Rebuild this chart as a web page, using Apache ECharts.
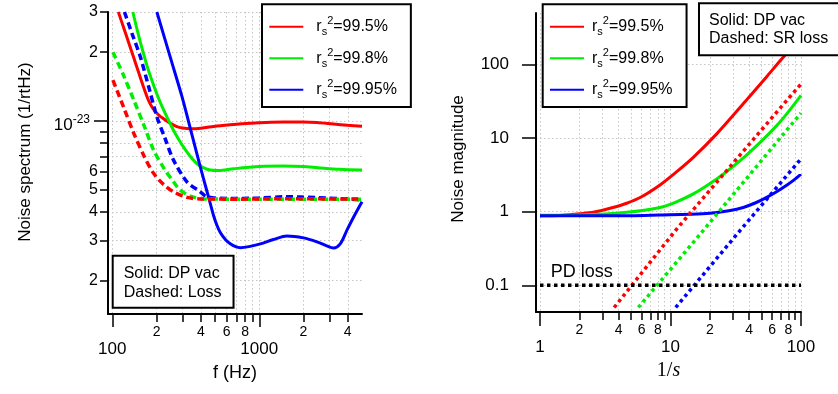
<!DOCTYPE html>
<html><head><meta charset="utf-8">
<script src="https://cdn.jsdelivr.net/npm/echarts@6/dist/echarts.min.js"></script>
<style>html,body{margin:0;padding:0;background:#fff}#c{width:838px;height:394px}</style>
</head><body><div id="c"></div>
<script>
// ---------- Left panel: noise spectrum (units of 1e-23 /rtHz) vs f (Hz) ----------
const leftSolid995 = [[110,3.0],[120,2.54],[130,2.18],[140,1.89],[150,1.654],[163,1.41],[172,1.28],[180,1.198],[190,1.129],[198,1.093],[210,1.054],[220,1.03],[236,0.998],[250,0.975],[275,0.945],[300,0.932],[340,0.925],[400,0.93],[515,0.951],[700,0.968],[869,0.977],[1100,0.985],[1455,0.99],[2000,0.99],[2470,0.985],[3200,0.97],[4000,0.958],[5000,0.948]];
const leftSolid998 = [[138,3.0],[146,2.58],[155,2.22],[163,1.976],[172,1.75],[185,1.518],[201,1.313],[218,1.158],[236,1.038],[252,0.951],[270,0.876],[288,0.816],[305,0.77],[340,0.699],[377,0.65],[420,0.623],[464,0.61],[530,0.607],[668,0.618],[1000,0.632],[1455,0.635],[2000,0.632],[2500,0.625],[3500,0.615],[5000,0.61]];
const leftSolid9995 = [[201,3.0],[250,1.87],[298,1.278],[350,0.861],[397,0.63],[440,0.494],[464,0.436],[489,0.385],[515,0.35],[543,0.325],[590,0.302],[635,0.29],[690,0.282],[743,0.279],[850,0.282],[1017,0.29],[1250,0.303],[1541,0.314],[2000,0.308],[2470,0.296],[2850,0.285],[3198,0.278],[3556,0.29],[3950,0.333],[4387,0.38],[5000,0.443]];
const leftDash995 = [[101,1.51],[119,1.155],[140,0.884],[165,0.70],[191,0.59],[225,0.525],[261,0.49],[322,0.463],[400,0.456],[700,0.455],[1500,0.457],[5000,0.455]];
const leftDash998 = [[101,2.0],[119,1.59],[140,1.236],[165,0.95],[191,0.746],[225,0.62],[261,0.542],[290,0.498],[339,0.469],[420,0.456],[800,0.455],[5000,0.455]];
const leftDash9995 = [[121,3.0],[137,2.39],[155,1.914],[178,1.39],[201,1.044],[230,0.83],[261,0.674],[322,0.542],[397,0.49],[440,0.466],[600,0.458],[1000,0.46],[1500,0.466],[2500,0.462],[5000,0.452]];

// ---------- Right panel: noise magnitude vs 1/s ----------
const rightSolid995 = [[1,0.88],[1.42,0.885],[2,0.935],[2.56,0.98],[3.5,1.12],[4.62,1.3],[6,1.59],[8.31,2.3],[11,3.41],[14.96,5.46],[22.6,11.36],[38.4,33],[55,69],[71.1,118],[100,230]];
const rightSolid998 = [[1,0.89],[2,0.9],[4.62,0.98],[8.31,1.14],[11,1.35],[14.96,1.74],[22.6,2.78],[30,4.07],[38.4,5.9],[50,9.12],[65.1,14.7],[80,22.6],[100,37.8]];
const rightSolid9995 = [[1,0.88],[5,0.88],[8.31,0.9],[14,0.92],[20.1,0.95],[28,1.03],[36.1,1.14],[45,1.32],[54.6,1.56],[65,1.86],[77.6,2.28],[88,2.68],[100,3.23]];
const rightDot995 = [[3.7,0.05],[11.15,0.58],[77.6,32.2],[100,54]];
const rightDot998 = [[5.67,0.05],[17.8,0.553],[100,21.8]];
const rightDot9995 = [[10.96,0.05],[34.1,0.553],[100,5.2]];
const pdLoss = [[1,0.1],[100,0.1]];

// ---------- ticks / labels ----------
const leftXMajor = [100, 1000];
const leftXMinorTicks = [200,300,400,500,600,700,800,900,2000,3000,4000];
const leftXMinorLabels = [200,400,600,800,2000,4000];
const leftYMajor = [1];
const leftYMinorTicks = [0.2,0.3,0.4,0.5,0.6,0.7,0.8,0.9,2,3];
const leftYMinorLabels = [0.2,0.3,0.4,0.5,0.6,2,3];
const rightXMajor = [1, 10, 100];
const rightXMinorTicks = [2,3,4,5,6,7,8,9,20,30,40,50,60,70,80,90];
const rightXMinorLabels = [2,4,6,8,20,40,60,80];
const rightYMajor = [0.1, 1, 10, 100];
const legendNames = ['99.5%', '99.8%', '99.95%'];
const colors = ['#ff0000', '#00ee00', '#0000ff'];

const FF = 'Liberation Sans';
const gridLine = {show:true, lineStyle:{color:'#c4c4c4', type:[1.5,2.5], width:1}};
function lead(v){ const e = Math.floor(Math.log10(v) + 1e-9); return String(Math.round(v / Math.pow(10, e))); }

function axis(o){
  return Object.assign({
    type:'log', logBase:10,
    axisLine:{show:false, onZero:false},
    minorTick:{show:false}, minorSplitLine:{show:false},
    splitLine:gridLine
  }, o);
}
const tickStyle = w => ({color:'#000', width:w});

const xAxis = [
  axis({gridIndex:0, min:93.5, max:5000, position:'bottom',
    axisLine:{show:true, onZero:false, lineStyle:{color:'#000', width:2}},
    axisTick:{show:true, customValues:leftXMajor, length:13, lineStyle:tickStyle(1.5)},
    axisLabel:{customValues:leftXMajor, margin:27, fontSize:17, color:'#000', fontFamily:FF, formatter:v=>String(Math.round(v))},
    name:'f (Hz)', nameLocation:'middle', nameGap:50, nameTextStyle:{fontSize:18, color:'#000', fontFamily:FF}}),
  axis({gridIndex:0, min:93.5, max:5000, position:'bottom',
    axisTick:{show:true, customValues:leftXMinorTicks, length:8, lineStyle:tickStyle(1.5)},
    axisLabel:{customValues:leftXMinorLabels, margin:11, fontSize:14, color:'#000', fontFamily:FF, formatter:lead}}),
  axis({gridIndex:1, min:0.932, max:100, position:'bottom',
    axisLine:{show:true, onZero:false, lineStyle:{color:'#000', width:2}},
    axisTick:{show:true, customValues:rightXMajor, length:14, lineStyle:tickStyle(1.5)},
    axisLabel:{customValues:rightXMajor, margin:27, fontSize:17, color:'#000', fontFamily:FF, formatter:v=>String(Math.round(v))},
    name:'{n|1/}{i|s}', nameLocation:'middle', nameGap:48,
    nameTextStyle:{rich:{n:{fontSize:20, fontFamily:'Liberation Serif', color:'#000'}, i:{fontSize:20, fontFamily:'Liberation Serif', fontStyle:'italic', color:'#000'}}}}),
  axis({gridIndex:1, min:0.932, max:100, position:'bottom',
    axisTick:{show:true, customValues:rightXMinorTicks, length:8, lineStyle:tickStyle(1.5)},
    axisLabel:{customValues:rightXMinorLabels, margin:11, fontSize:14, color:'#000', fontFamily:FF, formatter:lead}})
];
const yAxis = [
  axis({gridIndex:0, min:0.143, max:3, position:'left',
    axisLine:{show:true, onZero:false, lineStyle:{color:'#000', width:2}},
    axisTick:{show:true, customValues:leftYMajor, length:14, lineStyle:tickStyle(1.5)},
    axisLabel:{customValues:leftYMajor, margin:18, padding:[5,0,0,0], color:'#000', fontFamily:FF,
      formatter:()=>'{a|10}{b|-23}',
      rich:{a:{fontSize:17, lineHeight:20, verticalAlign:'bottom', fontFamily:FF, color:'#000'},
            b:{fontSize:12, lineHeight:20, verticalAlign:'top', fontFamily:FF, color:'#000'}}}}),
  axis({gridIndex:0, min:0.143, max:3, position:'left',
    axisTick:{show:true, customValues:leftYMinorTicks, length:8, lineStyle:tickStyle(1.5)},
    axisLabel:{customValues:leftYMinorLabels, margin:10, fontSize:16, color:'#000', fontFamily:FF, formatter:lead}}),
  axis({gridIndex:1, min:0.0434, max:497, position:'left',
    axisLine:{show:true, onZero:false, lineStyle:{color:'#000', width:2}},
    axisTick:{show:true, customValues:rightYMajor, length:14, lineStyle:tickStyle(1.5)},
    axisLabel:{customValues:rightYMajor, margin:27, fontSize:17, color:'#000', fontFamily:FF, formatter:v=>(v<1?v.toFixed(1):String(Math.round(v)))}})
];

function line(name, data, xi, yi, color, width, dash, z, smooth){
  return {name, type:'line', data, xAxisIndex:xi, yAxisIndex:yi, symbol:'none', showSymbol:false,
    smooth: smooth, clip:true, silent:true, z,
    lineStyle:{color, width, type:dash || 'solid', cap:'butt'}, itemStyle:{color}};
}
const series = [
  line('L0', leftSolid995, 0, 0, colors[0], 3, null, 2, 0.3),
  line('L1', leftSolid998, 0, 0, colors[1], 3, null, 2, 0.3),
  line('L2', leftSolid9995, 0, 0, colors[2], 3, null, 2, 0.3),
  line('Ld2', leftDash9995, 0, 0, colors[2], 3.5, [7,4], 3, 0.3),
  line('Ld1', leftDash998, 0, 0, colors[1], 3.5, [7,4], 3, 0.3),
  line('Ld0', leftDash995, 0, 0, colors[0], 3.5, [7,4], 3, 0.3),
  line('R0', rightSolid995, 2, 2, colors[0], 3, null, 2, 0.3),
  line('R1', rightSolid998, 2, 2, colors[1], 3, null, 2, 0.3),
  line('R2', rightSolid9995, 2, 2, colors[2], 3, null, 2, 0.3),
  line('Rd0', rightDot995, 2, 2, colors[0], 3.5, [3.5,3.5], 3, false),
  line('Rd1', rightDot998, 2, 2, colors[1], 3.5, [3.5,3.5], 3, false),
  line('Rd2', rightDot9995, 2, 2, colors[2], 3.5, [3.5,3.5], 3, false),
  line('PD', pdLoss, 2, 2, '#000', 3.5, [3.5,3.5], 3, false)
];

const legRich = pad => ({
  r:{fontSize:16, lineHeight:22, fontFamily:FF, color:'#000', padding:[0,0,0,pad]},
  s:{fontSize:11, lineHeight:22, fontFamily:FF, color:'#000', verticalAlign:'bottom'},
  p:{fontSize:11, lineHeight:22, fontFamily:FF, color:'#000', verticalAlign:'top'},
  t:{fontSize:16, lineHeight:22, fontFamily:FF, color:'#000'}
});
function legend(names, left, top, pad){
  return {show:true, orient:'vertical', left, top, data:names, icon:'rect', itemWidth:34, itemHeight:2, itemGap:9.5,
    padding:[11.4, 14, 6.3, 7.3], borderColor:'#000', borderWidth:2, backgroundColor:'#fff', selectedMode:false, z:20,
    formatter:n => '{r|r}{s|s}{p|2}{t|=' + legendNames[+n.slice(-1)] + '}',
    textStyle:{rich:legRich(pad)}};
}

const option = {
  animation:false, backgroundColor:'#fff',
  grid:[
    {left:108, top:12, width:254, height:302, containLabel:false, outerBoundsMode:'none'},
    {left:536, top:13, width:265, height:299, containLabel:false, outerBoundsMode:'none'}
  ],
  xAxis, yAxis, series,
  legend:[ legend(['L0','L1','L2'], 262, 4.3, 8), legend(['R0','R1','R2'], 542.7, 4.3, 3) ],
  graphic:[
    {type:'text', x:25, y:152, rotation:Math.PI/2, z:30, style:{text:'Noise spectrum (1/rtHz)', font:'17px "Liberation Sans"', fill:'#000', align:'center', verticalAlign:'middle'}},
    {type:'text', x:458, y:159, rotation:Math.PI/2, z:30, style:{text:'Noise magnitude', font:'17px "Liberation Sans"', fill:'#000', align:'center', verticalAlign:'middle'}},
    {type:'text', x:113.7, y:256.7, z:30, style:{text:'Solid: DP vac\nDashed: Loss', font:'16px "Liberation Sans"', lineHeight:19, fill:'#000',
      padding:[7,11,5,10], backgroundColor:'#fff', borderColor:'#000', borderWidth:2}},
    {type:'text', x:700, y:4.3, z:30, style:{text:'Solid: DP vac\nDashed: SR loss', font:'16px "Liberation Sans"', lineHeight:18, fill:'#000',
      padding:[7,30,7,9], backgroundColor:'#fff', borderColor:'#000', borderWidth:2}},
    {type:'text', x:550.7, y:271.7, z:30, style:{text:'PD loss', font:'18px "Liberation Sans"', fill:'#000', verticalAlign:'middle'}}
  ]
};
echarts.init(document.getElementById('c'), null, {renderer:'canvas'}).setOption(option);
</script></body></html>
